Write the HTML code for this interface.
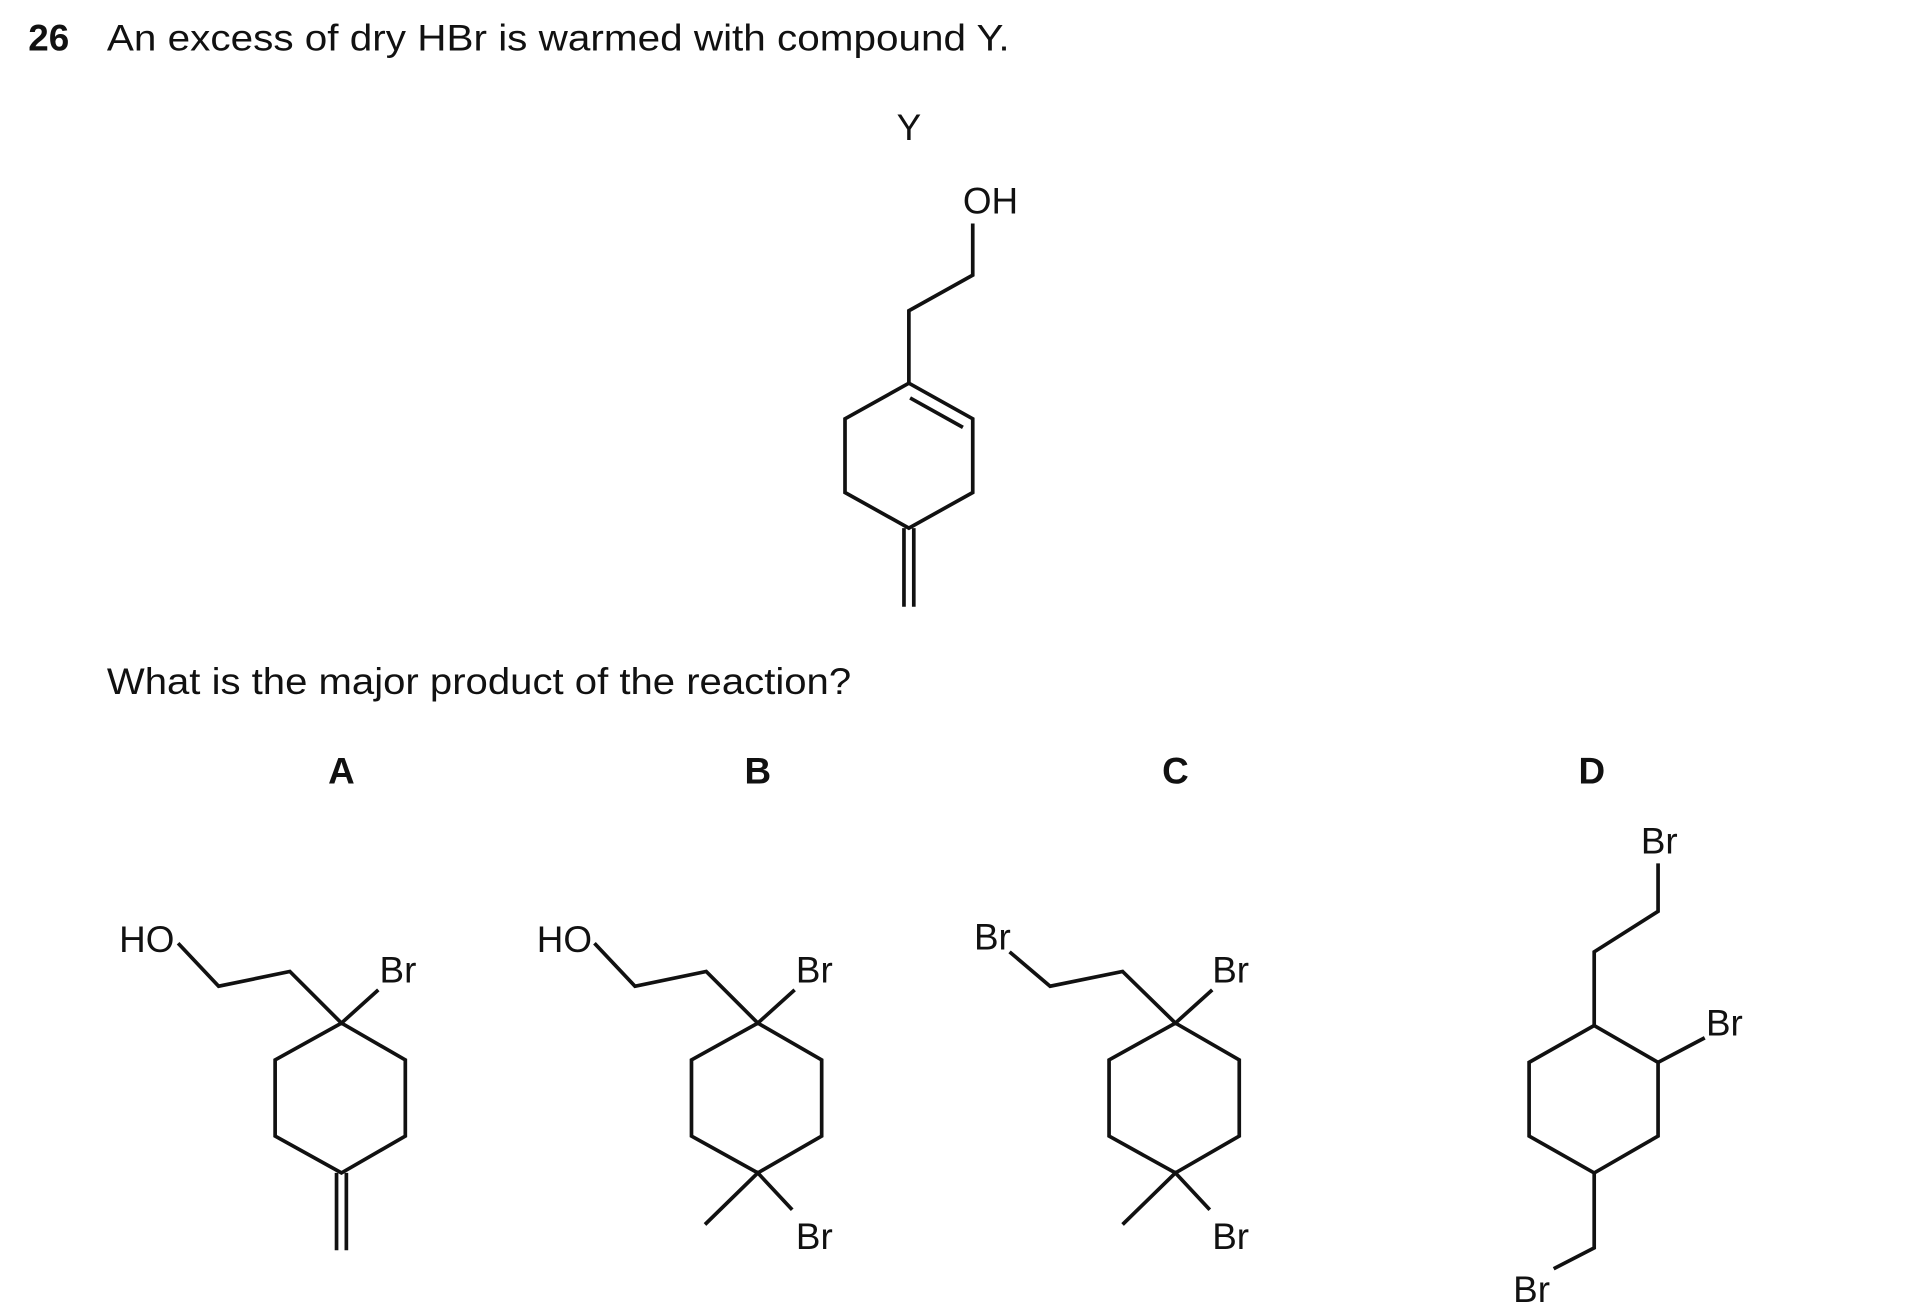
<!DOCTYPE html>
<html><head><style>html,body{margin:0;padding:0;background:#fff}svg{display:block}</style></head>
<body>
<svg width="1916" height="1316" viewBox="0 0 1560 1071.5" xmlns="http://www.w3.org/2000/svg" font-family="Liberation Sans, Arial, sans-serif" fill="#111">
<g font-size="30">
<text x="23" y="41" font-weight="bold">26</text>
<text x="87" y="41" textLength="735" lengthAdjust="spacingAndGlyphs">An excess of dry HBr is warmed with compound Y.</text>
<text x="87" y="565" textLength="606" lengthAdjust="spacingAndGlyphs">What is the major product of the reaction?</text>
<text x="740" y="114" text-anchor="middle">Y</text>
<text x="784" y="174">OH</text>
<g font-weight="bold" text-anchor="middle">
<text x="278" y="638">A</text><text x="617" y="638">B</text><text x="957" y="638">C</text><text x="1296" y="638">D</text>
</g>
<text x="97" y="775">HO</text>
<text x="309" y="800">Br</text>
<text x="437" y="775">HO</text>
<text x="648" y="800">Br</text>
<text x="648" y="1017">Br</text>
<text x="793" y="773">Br</text>
<text x="987" y="800">Br</text>
<text x="987" y="1017">Br</text>
<text x="1336" y="695">Br</text>
<text x="1389" y="843">Br</text>
<text x="1232" y="1060">Br</text>
</g>
<g fill="none" stroke="#111" stroke-width="3" stroke-linejoin="miter" stroke-linecap="butt">
<polyline points="792,182 792,224 740,253 740,312"/>
<polygon points="740,312 792,341 792,401 740,430 688,401 688,341"/>
<line x1="741" y1="324" x2="784" y2="348"/>
<line x1="736" y1="430" x2="736" y2="494"/><line x1="744" y1="430" x2="744" y2="494"/>
<polyline points="145,768 178,803 236,791 278,833 308,806"/>
<polygon points="278,833 330,863 330,925 278,955 224,925 224,863"/>
<line x1="274" y1="955" x2="274" y2="1018"/><line x1="282" y1="955" x2="282" y2="1018"/>
<polyline points="484,768 517,803 575,791 617,833 647,806"/>
<polygon points="617,833 669,863 669,925 617,955 563,925 563,863"/>
<polyline points="574,997 617,955 645,985"/>
<polyline points="822,775 855,803 914,791 957,833 987,806"/>
<polygon points="957,833 1009,863 1009,925 957,955 903,925 903,863"/>
<polyline points="914,997 957,955 985,985"/>
<polyline points="1350,703 1350,742 1298,775 1298,835"/>
<polygon points="1298,835 1350,865 1350,925 1298,955 1245,925 1245,865"/>
<line x1="1350" y1="865" x2="1388" y2="845"/>
<polyline points="1298,955 1298,1016 1265,1033"/>
</g>
</svg>
</body></html>
